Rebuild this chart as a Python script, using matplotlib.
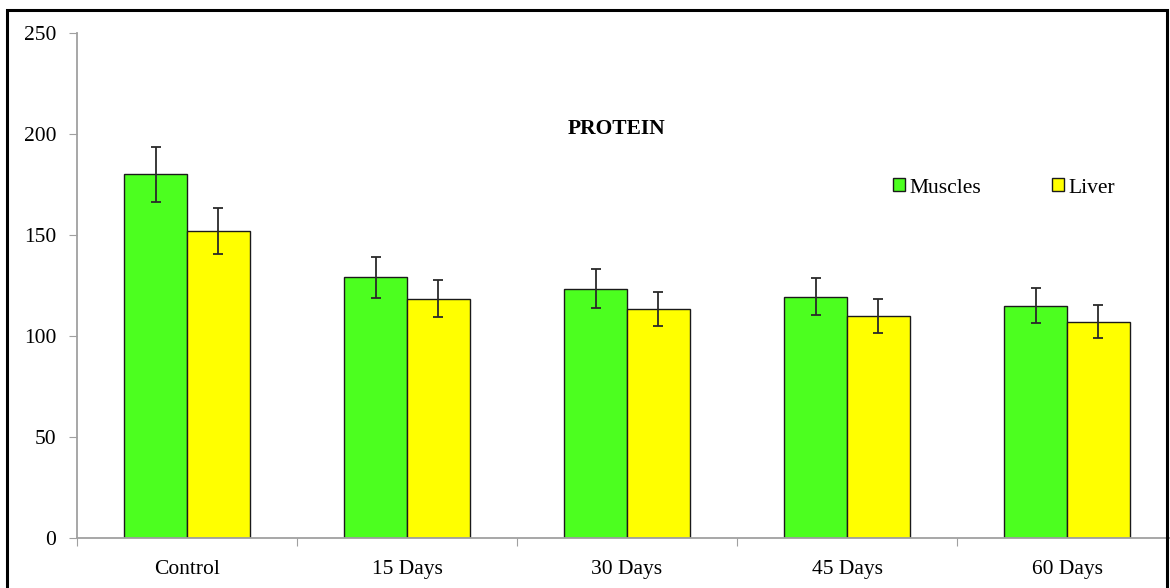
import matplotlib
matplotlib.use("Agg")
import matplotlib.pyplot as plt
from matplotlib.patches import Rectangle, Patch
import numpy as np

categories = ["Control", "15 Days", "30 Days", "45 Days", "60 Days"]
muscles = [180, 129, 123.5, 119.5, 115]
muscles_err = [13.5, 10, 9.7, 9, 8.7]
liver = [152, 118.5, 113.5, 110, 107]
liver_err = [11.5, 9, 8.5, 8.5, 8.2]
yticks = [0, 50, 100, 150, 200, 250]

plt.rcParams['font.family'] = ['Liberation Serif', 'DejaVu Serif']
FS = 15.5

W, H = 1170, 588
fig = plt.figure(figsize=(W / 100, H / 100), dpi=100)
ax = fig.add_axes([77 / W, (H - 538) / H, 1100 / W, 505 / H])

x = np.arange(len(categories))
bw = 0.286
green = "#4CFF1F"
yellow = "#FFFF00"
ekw = dict(ecolor="#2a2a2a", elinewidth=1.3, capsize=3.7, capthick=1.3)
ax.bar(x - bw / 2, muscles, bw, color=green, edgecolor="#1a1a1a", linewidth=1,
       yerr=muscles_err, error_kw=ekw, label="Muscles", zorder=2)
ax.bar(x + bw / 2, liver, bw, color=yellow, edgecolor="#1a1a1a", linewidth=1,
       yerr=liver_err, error_kw=ekw, label="Liver", zorder=2)

ax.set_xlim(-0.5, len(categories) - 0.5)
ax.set_ylim(0, 250)
ax.set_yticks(yticks)
ax.set_yticklabels([str(v) for v in yticks])
ax.set_xticks(np.arange(-0.5, len(categories), 1.0))
ax.set_xticklabels([])
ax.set_xticks(x, minor=True)
ax.set_xticklabels(categories, minor=True)
ax.tick_params(axis='x', which='minor', length=0, pad=16, labelsize=FS)
ax.tick_params(axis='x', which='major', length=6, color="#a0a0a0", direction='out')
ax.tick_params(axis='y', length=6, color="#a0a0a0", labelsize=FS, pad=9)
for s in ["top", "right"]:
    ax.spines[s].set_visible(False)
for s in ["left", "bottom"]:
    ax.spines[s].set_color("#a0a0a0")
    ax.spines[s].set_linewidth(1.3)

fig.text(617 / W, 1 - 129 / H, "PROTEIN", ha="center", va="center",
         fontsize=FS, fontweight="bold")

handles = [Patch(facecolor=green, edgecolor="#1a1a1a"), Patch(facecolor=yellow, edgecolor="#1a1a1a")]
fig.legend(handles, ["Muscles", "Liver"], loc="center left",
           bbox_to_anchor=(893 / W, 1 - 188 / H), ncol=2, frameon=False,
           fontsize=FS, handlelength=0.55, handleheight=0.55, handletextpad=0.2,
           columnspacing=3.3, borderpad=0, borderaxespad=0)

fig.patches.append(Rectangle((7 / W, -0.05), 1160 / W, 1.05 - 10 / H,
                             transform=fig.transFigure, fill=False,
                             edgecolor="black", linewidth=2.2))

fig.savefig("out.png", dpi=100)
